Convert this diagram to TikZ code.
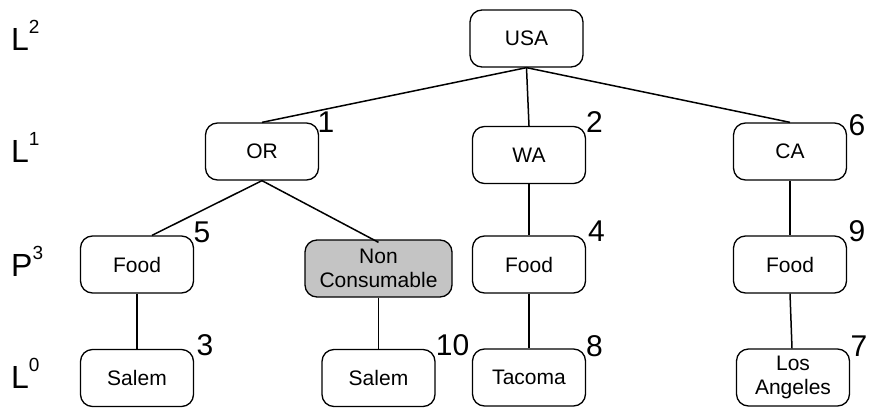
\documentclass[tikz,border=0pt]{standalone}
\usepackage{fontspec}
\setmainfont{Liberation Sans}
\definecolor{boxgray}{RGB}{196,196,196}
\begin{document}
\begin{tikzpicture}[x=1pt,y=-1pt,
  box/.style={draw=black, line width=1.3pt, rounded corners=12pt, fill=white,
    minimum width=113pt, minimum height=57pt, inner sep=0pt, align=center,
    font=\fontsize{21}{24}\selectfont},
  graybox/.style={box, fill=boxgray, minimum width=147pt},
  num/.style={inner sep=0pt, font=\fontsize{30}{30}\selectfont},
  lvl/.style={anchor=base west, inner sep=0pt, font=\fontsize{32}{32}\selectfont},
  edge/.style={draw=black, line width=1.5pt}]
\useasboundingbox (0,0) rectangle (870,407);
% level labels
\newcommand{\lvlsup}[1]{\raisebox{17pt}{\fontsize{19}{19}\selectfont #1}}
\node[lvl] (l2) at (11,50) {L\lvlsup{2}};
\node[lvl] (l1) at (11,162) {L\lvlsup{1}};
\node[lvl] (p3) at (11,276) {P\lvlsup{3}};
\node[lvl] (l0) at (11,388) {L\lvlsup{0}};
% boxes
\node[box] (usa) at (526.5,38.5) {USA};
\node[box] (or) at (262,151.5) {OR};
\node[box] (wa) at (529,155) {WA};
\node[box] (ca) at (790,151.5) {CA};
\node[box] (food1) at (137,264.5) {Food};
\node[graybox] (nc) at (378.5,268.5) {Non\\Consumable};
\node[box] (food2) at (529,264.5) {Food};
\node[box] (food3) at (790,264.5) {Food};
\node[box] (salem1) at (137,378) {Salem};
\node[box] (salem2) at (378.5,378) {Salem};
\node[box] (tacoma) at (529,377.5) {Tacoma};
\node[box] (la) at (793,377.5) {Los\\Angeles};
% edges
\draw[edge] (usa.south) -- (or.north);
\draw[edge] (usa.south) -- (wa.north);
\draw[edge] (usa.south) -- (ca.north);
\draw[edge] (or.south) -- ([xshift=15pt]food1.north);
\draw[edge] (or.south) -- ([yshift=-3pt]nc.north);
\draw[edge] (wa.south) -- (food2.north);
\draw[edge] (ca.south) -- (food3.north);
\draw[edge] (food1.south) -- (salem1.north);
\draw[edge] (nc.south) -- (salem2.north);
\draw[edge] (food2.south) -- (tacoma.north);
\draw[edge] (food3.south) -- ([xshift=-1pt]la.north);
% numbers
\node[num] (n1) at (326,122.5) {1};
\node[num] (n2) at (594.5,122.5) {2};
\node[num] (n6) at (857,125) {6};
\node[num] (n5) at (202,232) {5};
\node[num] (n4) at (596.5,231.5) {4};
\node[num] (n9) at (857,231.5) {9};
\node[num] (n3) at (205,345) {3};
\node[num] (n10) at (452.5,345) {10};
\node[num] (n8) at (594.5,346.5) {8};
\node[num] (n7) at (859,346) {7};
\end{tikzpicture}
\end{document}
